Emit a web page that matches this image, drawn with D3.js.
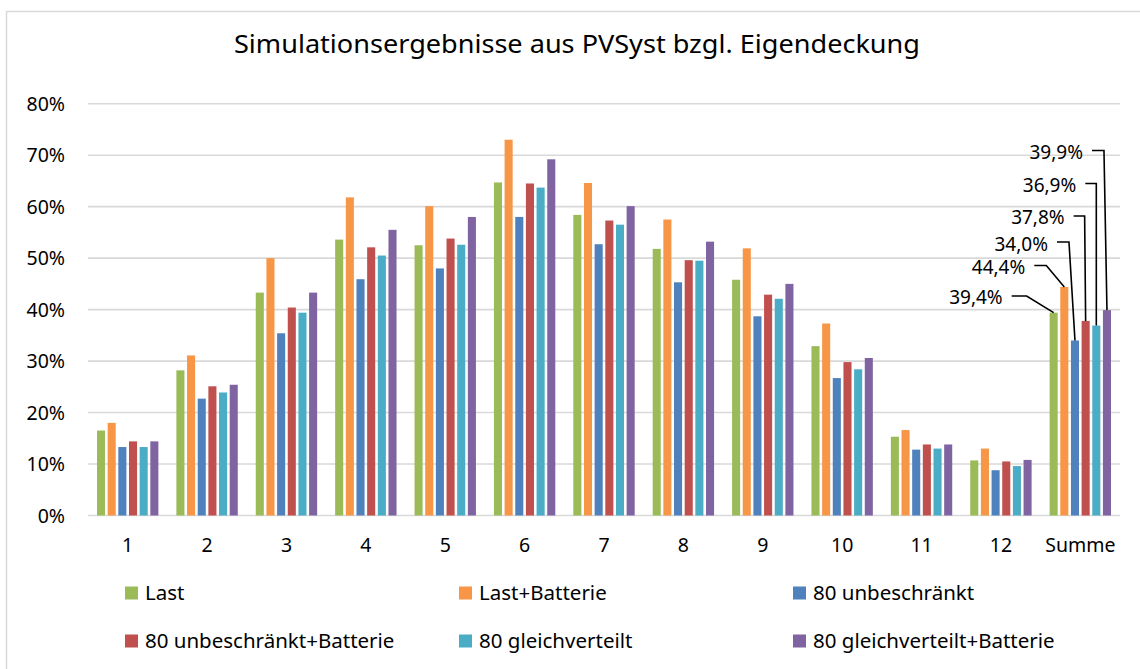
<!DOCTYPE html>
<html>
<head>
<meta charset="utf-8">
<script src="https://cdn.jsdelivr.net/npm/d3@7/dist/d3.min.js"></script>
<style>
  html, body { margin: 0; padding: 0; background: #fff; }
  svg { display: block; }
  text { font-family: "Noto Sans", "DejaVu Sans", sans-serif; fill: #000; }
</style>
</head>
<body>
<svg id="chart" width="1140" height="669"></svg>
<script>
// ---- data ----
const categories = ["1","2","3","4","5","6","7","8","9","10","11","12","Summe"];
const seriesNames = ["Last","Last+Batterie","80 unbeschränkt","80 unbeschränkt+Batterie","80 gleichverteilt","80 gleichverteilt+Batterie"];
const last            = [16.5, 28.2, 43.3, 53.6, 52.5, 64.7, 58.4, 51.8, 45.8, 32.9, 15.3, 10.7, 39.4];
const lastBatterie    = [18.0, 31.1, 50.0, 61.8, 60.1, 73.0, 64.6, 57.5, 51.9, 37.3, 16.6, 13.0, 44.4];
const unbeschraenkt   = [13.3, 22.7, 35.4, 45.9, 48.0, 58.0, 52.7, 45.3, 38.7, 26.7, 12.8,  8.8, 34.0];
const unbeschraenktB  = [14.4, 25.1, 40.4, 52.1, 53.8, 64.5, 57.3, 49.6, 42.9, 29.8, 13.8, 10.5, 37.8];
const gleichverteilt  = [13.3, 23.9, 39.4, 50.5, 52.6, 63.7, 56.5, 49.5, 42.1, 28.4, 13.0,  9.6, 36.9];
const gleichverteiltB = [14.4, 25.4, 43.3, 55.5, 58.0, 69.2, 60.1, 53.2, 45.0, 30.6, 13.8, 10.8, 39.9];
const yTicks = [0, 10, 20, 30, 40, 50, 60, 70, 80];
const summeLabels = ["39,4%","44,4%","34,0%","37,8%","36,9%","39,9%"];

// ---- style / layout ----
const colors = ["#9BBB59","#F79646","#4F81BD","#C0504D","#4BACC6","#8064A2"];
const seriesValues = [last, lastBatterie, unbeschraenkt, unbeschraenktB, gleichverteilt, gleichverteiltB];
// manual label placement for the "Summe" labels (pixel levels and elbow offsets)
const labelLevelY = [296, 265.5, 242, 216, 183.5, 150.5];
const labelTextY  = [297, 267, 244, 217, 185, 152];
const labelElbowDx = [-27, -18, -6, -1, 0, -3];
const labelLineLen = [15, 12, 12, 11, 11, 12];

const svg = d3.select("#chart");

// chart border (cropped at right/bottom)
svg.append("rect").attr("x", 6.5).attr("y", 11.5).attr("width", 1200).attr("height", 700)
  .attr("fill", "none").attr("stroke", "#d9d9d9").attr("stroke-width", 1.5);

// title
svg.append("text").attr("x", 577).attr("y", 53).attr("text-anchor", "middle")
  .attr("font-size", 25).attr("textLength", 686).attr("lengthAdjust", "spacingAndGlyphs")
  .text("Simulationsergebnisse aus PVSyst bzgl. Eigendeckung");

const x0 = d3.scaleBand().domain(categories).range([88, 1120]).paddingInner(0.194).paddingOuter(0.097);
const x1 = d3.scaleBand().domain(d3.range(seriesNames.length)).range([0, x0.bandwidth()]);
const y = d3.scaleLinear().domain([0, 80]).range([515.5, 103.7]);

// gridlines
svg.append("g").selectAll("line").data(yTicks).join("line")
  .attr("x1", 88).attr("x2", 1120)
  .attr("y1", d => y(d)).attr("y2", d => y(d))
  .attr("stroke", "#d9d9d9").attr("stroke-width", 1.6);

// y axis labels
const yAxis = d3.axisLeft(y).tickValues(yTicks).tickFormat(d => d + "%").tickSize(0).tickPadding(0);
const gy = svg.append("g").attr("transform", "translate(65,0)").call(yAxis);
gy.select(".domain").remove();
gy.selectAll("text").attr("font-size", 19.5).attr("font-family", "'Noto Sans', sans-serif").attr("fill", "#000").attr("dy", "0.34em");

// x axis labels
const xAxis = d3.axisBottom(x0).tickSize(0).tickPadding(0);
const gx = svg.append("g").attr("transform", "translate(0,552)").call(xAxis);
gx.select(".domain").remove();
gx.selectAll("text").attr("font-size", 19.5).attr("font-family", "'Noto Sans', sans-serif").attr("fill", "#000").attr("dy", 0);

// bars
const inset = 1.3;
const groups = svg.append("g").selectAll("g").data(categories).join("g")
  .attr("transform", d => `translate(${x0(d)},0)`);
groups.selectAll("rect").data((c, ci) => seriesValues.map((s, si) => ({si, v: s[ci]}))).join("rect")
  .attr("x", d => x1(d.si) + inset)
  .attr("width", x1.bandwidth() - 2 * inset)
  .attr("y", d => y(d.v))
  .attr("height", d => y(0) - y(d.v))
  .attr("fill", d => colors[d.si]);

// Summe data labels with leader lines
const sumIdx = categories.length - 1;
const lab = svg.append("g");
seriesValues.forEach((s, si) => {
  const cx = x0(categories[sumIdx]) + x1(si) + x1.bandwidth() / 2;
  const ty = y(s[sumIdx]);
  const ex = cx + labelElbowDx[si];
  const sx = ex - labelLineLen[si];
  const ly = labelLevelY[si];
  lab.append("path")
    .attr("d", `M${sx},${ly}L${ex},${ly}L${cx},${ty}`)
    .attr("fill", "none").attr("stroke", "#000").attr("stroke-width", 1.6);
  lab.append("text").attr("x", sx - 9).attr("y", labelTextY[si])
    .attr("text-anchor", "end").attr("dy", "0.35em").attr("font-size", 19)
    .text(summeLabels[si]);
});

// legend
const legendX = [125, 459, 793];
const legendY = [593, 641];
const leg = svg.append("g").selectAll("g").data(seriesNames).join("g")
  .attr("transform", (d, i) => `translate(${legendX[i % 3]},${legendY[Math.floor(i / 3)]})`);
leg.append("rect").attr("x", 0).attr("y", -6.5).attr("width", 13).attr("height", 13)
  .attr("fill", (d, i) => colors[i]);
leg.append("text").attr("x", 20).attr("y", 0).attr("dy", "0.35em").attr("font-size", 20.5)
  .text(d => d);
</script>
</body>
</html>
